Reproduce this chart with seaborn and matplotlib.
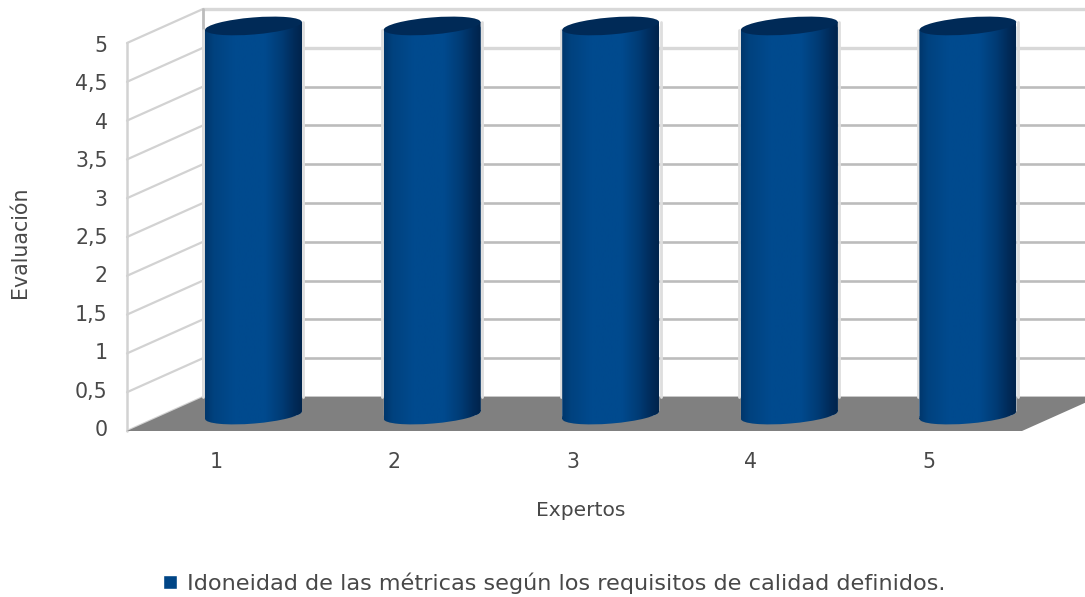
import numpy as np
import pandas as pd
import matplotlib
matplotlib.use("Agg")
import matplotlib.pyplot as plt
import seaborn as sns
from matplotlib.colors import LinearSegmentedColormap
from matplotlib.lines import Line2D
from matplotlib.patches import Ellipse, PathPatch, Polygon
from matplotlib.path import Path
from matplotlib.transforms import Affine2D, IdentityTransform

expertos = ["1", "2", "3", "4", "5"]
evaluacion = [5, 5, 5, 5, 5]
y_ticks = [0, 0.5, 1, 1.5, 2, 2.5, 3, 3.5, 4, 4.5, 5]
y_tick_labels = ["0", "0,5", "1", "1,5", "2", "2,5", "3", "3,5", "4", "4,5", "5"]
serie = "Idoneidad de las métricas según los requisitos de calidad definidos."

W, H = 1085, 597
BLUE = "#004586"
TOP = "#002a57"
GRID = "#bcbcbc"
SIDE = "#d2d2d2"
TEXT = "#484848"
DEPTH = (76, 34)          # shift of the front plane against the back wall, pixels
CYL_W, CYL_H, CYL_TILT = 97, 17, 4.7

sns.set_theme(style="white")
plt.rcParams["font.family"] = ["DejaVu Sans"]
plt.rcParams["text.color"] = TEXT


def box(left, top, right, bottom):
    """Axes rectangle from pixel edges measured from the top left corner."""
    return [left / W, 1 - bottom / H, (right - left) / W, (bottom - top) / H]


fig = plt.figure(figsize=(W / 100, H / 100), dpi=100, facecolor="white")

# Back wall with its gridlines
ax_back = fig.add_axes(box(203, 9, 1098, 397), zorder=1)
ax_back.patch.set_alpha(0)
ax_back.set_xlim(0, 1)
ax_back.set_ylim(0, 5)
ax_back.set_yticks(y_ticks)
ax_back.set_xticks([])
ax_back.tick_params(left=False, labelleft=False)
ax_back.grid(axis="y", color=GRID, lw=1.9)
sns.despine(ax=ax_back, left=True, bottom=True, right=True, top=True)
for gl, v in zip(ax_back.get_ygridlines(), y_ticks):
    gl.set_clip_on(False)
    if v >= 4.5:
        gl.set_color("#d8d8d8")
        gl.set_linewidth(2.4)

front = ax_back.transData + Affine2D().translate(-DEPTH[0], -DEPTH[1])

# Floor and side wall, projected from the back wall
y0_b = ax_back.transData.transform((0, 0))
y1_b = ax_back.transData.transform((1, 0))
floor = [y0_b, y1_b, y1_b - np.array(DEPTH), y0_b - np.array(DEPTH)]
ax_back.add_patch(Polygon(floor, closed=True, facecolor="#808080", edgecolor="none",
                          transform=IdentityTransform(), clip_on=False, zorder=3))
for v in y_ticks:
    a = ax_back.transData.transform((0, v))
    b = a - np.array(DEPTH)
    ax_back.add_line(Line2D([a[0], b[0]], [a[1], b[1]], color=SIDE, lw=1.6,
                            transform=IdentityTransform(), clip_on=False, zorder=2))
ax_back.add_line(Line2D([0, 0], [0, 5], color=GRID, lw=2.0, clip_on=False, zorder=2))
ax_back.add_line(Line2D([0, 0], [0, 5], color=SIDE, lw=1.8, clip_on=False, zorder=2,
                        transform=front))

# Cylinders
ax_mid = fig.add_axes(box(164.2, 6.5, 1057.2, 434.5), zorder=2)
ax_mid.patch.set_alpha(0)
data = pd.DataFrame({"Expertos": expertos, "Evaluacion": evaluacion})
sns.barplot(data=data, x="Expertos", y="Evaluacion", color=BLUE, saturation=1,
            width=CYL_W / 178.6, label=serie, ax=ax_mid, legend=False)
ax_mid.set_xlim(-0.5, 4.5)
ax_mid.set_ylim(-0.25, 5.25)
ax_mid.set_axis_off()

shade = LinearSegmentedColormap.from_list(
    "cilindro",
    [(0.0, "#00376c"), (0.09, "#00427f"), (0.3, "#004a8e"), (0.62, "#004a8e"),
     (0.8, "#003b74"), (0.93, "#002a58"), (1.0, "#00244c")],
)
ramp = np.linspace(0, 1, 128)[None, :]
bars = list(ax_mid.patches)

for bar in bars:
    left, right = bar.get_x(), bar.get_x() + bar.get_width()
    cx = (left + right) / 2
    top_val = bar.get_height()
    lx, _ = ax_mid.transData.transform((left, 0))
    rx, _ = ax_mid.transData.transform((right, 0))
    base = ax_mid.transData.transform((cx, 0))
    crown = ax_mid.transData.transform((cx, top_val))
    tilt = np.tan(np.radians(CYL_TILT)) * CYL_W / 2

    # Side of the cylinder: straight walls closed by the tilted rims
    rim = Path.unit_circle().transformed(
        Affine2D().scale(CYL_W / 2, CYL_H / 2).rotate_deg(CYL_TILT).translate(*base))
    walls = Path([(lx, base[1] - tilt), (rx, base[1] + tilt), (rx, crown[1] + tilt),
                  (lx, crown[1] - tilt), (lx, base[1] - tilt)])
    outline = PathPatch(Path.make_compound_path(walls, rim),
                        transform=IdentityTransform(), facecolor="none", edgecolor="none")
    ax_mid.add_patch(outline)
    bar.set_clip_path(outline)
    im = ax_mid.imshow(ramp, cmap=shade, extent=(left, right, -0.25, top_val + 0.1), aspect="auto",
                       interpolation="bilinear", zorder=3)
    im.set_clip_path(outline)

    # Pale edge beside the cylinder, above the floor
    yb = ax_back.transData.transform((0, 0))[1]
    for px, yt in ((lx - 1.5, crown[1] - tilt), (rx + 1.5, crown[1] + tilt)):
        ax_mid.add_line(Line2D([px, px], [yb, yt], color="#dedede", lw=2.0,
                               transform=IdentityTransform(), clip_on=False, zorder=1))

    # Lid
    ax_mid.add_patch(Ellipse(crown, CYL_W, CYL_H, angle=CYL_TILT, facecolor=TOP,
                             edgecolor="none", transform=IdentityTransform(), zorder=4))

ax_mid.set_xlim(-0.5, 4.5)
ax_mid.set_ylim(-0.25, 5.25)

# Tick labels and axis titles
ax_front = fig.add_axes(box(127, 44, 1018, 428), zorder=3)
ax_front.patch.set_alpha(0)
ax_front.set_xlim(-0.5, 4.5)
ax_front.set_ylim(0, 5)
ax_front.set_xticks(range(len(expertos)), expertos)
ax_front.set_yticks(y_ticks, y_tick_labels)
ax_front.tick_params(axis="both", length=0, labelsize=14.8, labelcolor=TEXT)
ax_front.tick_params(axis="y", pad=14)
ax_front.tick_params(axis="x", pad=17.5)
sns.despine(ax=ax_front, left=True, bottom=True, right=True, top=True)
fig.text(20 / W, 1 - 242 / H, "Evaluación", rotation=90, ha="center", va="center",
         fontsize=14.8)
fig.text(581 / W, 1 - 510 / H, "Expertos", ha="center", va="center", fontsize=14.6)

handles = [bars[0]]
fig.legend(handles, [serie], loc="center", bbox_to_anchor=(554 / W, 1 - 583 / H),
           frameon=False, fontsize=16.1, handlelength=0.62, handleheight=0.62,
           handletextpad=0.45, labelcolor=TEXT)

fig.savefig("out.png", dpi=100, facecolor="white")
